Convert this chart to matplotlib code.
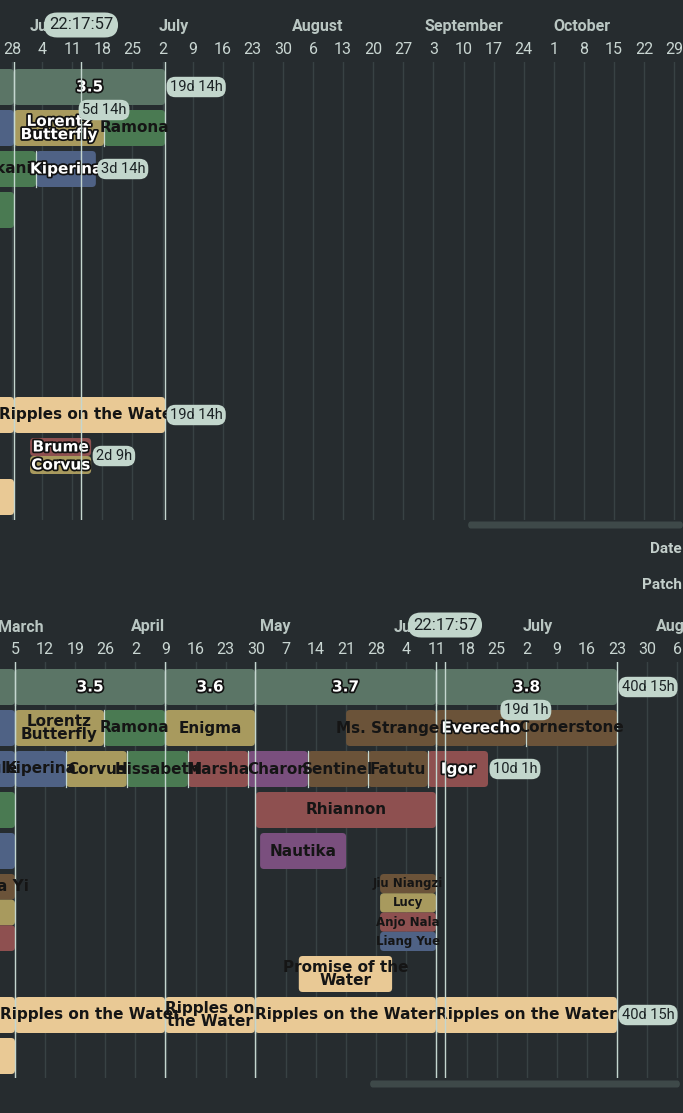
import matplotlib
matplotlib.use("Agg")
import matplotlib.pyplot as plt
import matplotlib.patheffects as pe
from matplotlib.patches import FancyBboxPatch
import pandas as pd

BG = "#262c2f"
GRID = "#384244"
LINE = "#c4d6cf"
BADGE = "#c2d6cc"
C = {"patch": "#5b7566", "blue": "#4f6285", "tan": "#a89a5e", "green": "#4a7a52",
     "red": "#8e5050", "purple": "#7a4f7e", "brown": "#6b5339", "light": "#e9c995"}

# ---------------- data ----------------
top_origin = "2024-05-28"
top_ticks = pd.date_range("2024-05-28", "2024-10-29", freq="7D")
top_months = ["2024-06-01", "2024-07-01", "2024-08-01", "2024-09-01", "2024-10-01"]
top_now = 16.05
top_lines = [0.47, 35.6]
# (row, start_day, end_day, label, color, white_outline, sub_index, sub_count)
top_bars = [
    (0, -30, 0.47, "", "patch", True, 0, 1),
    (0, 0.47, 35.6, "3.5", "patch", True, 0, 1),
    (1, -20, 0.47, "", "blue", False, 0, 1),
    (1, 0.47, 21.4, "Lorentz\nButterfly", "tan", True, 0, 1),
    (1, 21.4, 35.6, "Ramona", "green", False, 0, 1),
    (2, -7.4, 5.6, "Kakania", "green", False, 0, 1),
    (2, 5.6, 19.5, "Kiperina", "blue", True, 0, 1),
    (3, -20, 0.47, "", "green", False, 0, 1),
    (8, -30, 0.47, "", "light", False, 0, 1),
    (8, 0.47, 35.6, "Ripples on the Water", "light", False, 0, 1),
    (9, 4.2, 18.4, "Brume", "red", True, 0, 2),
    (9, 4.2, 18.4, "Corvus", "tan", True, 1, 2),
    (10, -20, 0.47, "", "light", False, 0, 1),
]
# (row, day, text, mode) mode: 'right' after bar end, 'top' centered on bar end at row top
top_badges = [(0, 35.6, "19d 14h", "right"), (1, 21.4, "5d 14h", "top"),
              (2, 19.5, "3d 14h", "right"), (8, 35.6, "19d 14h", "right"),
              (9, 18.4, "2d 9h", "right")]

bot_origin = "2024-03-05"
bot_ticks = pd.date_range("2024-03-05", "2024-08-06", freq="7D")
bot_months = ["2024-03-01", "2024-04-01", "2024-05-01", "2024-06-01", "2024-07-01", "2024-08-01"]
bot_now = 100.0
bot_lines = [0.0, 34.9, 55.8, 97.9, 140.0]
bot_bars = [
    (0, -30, 0.0, "", "patch", True, 0, 1),
    (0, 0.0, 34.9, "3.5", "patch", True, 0, 1),
    (0, 34.9, 55.8, "3.6", "patch", True, 0, 1),
    (0, 55.8, 97.9, "3.7", "patch", True, 0, 1),
    (0, 97.9, 140.0, "3.8", "patch", True, 0, 1),
    (1, -20, 0.0, "", "blue", False, 0, 1),
    (1, 0.0, 20.7, "Lorentz\nButterfly", "tan", False, 0, 1),
    (1, 20.7, 34.9, "Ramona", "green", False, 0, 1),
    (1, 34.9, 55.8, "Enigma", "tan", False, 0, 1),
    (1, 77.0, 97.9, "Ms. Stranger", "brown", False, 0, 1),
    (1, 97.9, 118.8, "Everecho", "brown", True, 0, 1),
    (1, 118.8, 140.0, "Cornerstone", "brown", False, 0, 1),
    (2, -9.5, 0.0, "Eagle", "blue", False, 0, 1),
    (2, 0.0, 11.9, "Kiperina", "blue", False, 0, 1),
    (2, 11.9, 26.0, "Corvus", "tan", False, 0, 1),
    (2, 26.0, 40.2, "Hissabeth", "green", False, 0, 1),
    (2, 40.2, 54.2, "Marsha", "red", False, 0, 1),
    (2, 54.2, 68.1, "Charon", "purple", False, 0, 1),
    (2, 68.1, 82.1, "Sentinel", "brown", False, 0, 1),
    (2, 82.1, 96.0, "Fatutu", "brown", False, 0, 1),
    (2, 96.0, 110.0, "Igor", "red", True, 0, 1),
    (3, -20, 0.0, "", "green", False, 0, 1),
    (3, 56.0, 97.9, "Rhiannon", "red", False, 0, 1),
    (4, -20, 0.0, "", "blue", False, 0, 1),
    (4, 57.0, 77.0, "Nautika", "purple", False, 0, 1),
    (5, -8.2, 0.0, "Zima Yi", "brown", False, 0, 3),
    (5, -8.2, 0.0, "", "tan", False, 1, 3),
    (5, -8.2, 0.0, "", "red", False, 2, 3),
    (5, 84.9, 97.9, "Jiu Niangzi", "brown", False, 0, 4),
    (5, 84.9, 97.9, "Lucy", "tan", False, 1, 4),
    (5, 84.9, 97.9, "Anjo Nala", "red", False, 2, 4),
    (5, 84.9, 97.9, "Liang Yue", "blue", False, 3, 4),
    (7, 66.0, 87.7, "Promise of the\nWater", "light", False, 0, 1),
    (8, -30, 0.0, "", "light", False, 0, 1),
    (8, 0.0, 34.9, "Ripples on the Water", "light", False, 0, 1),
    (8, 34.9, 55.8, "Ripples on\nthe Water", "light", False, 0, 1),
    (8, 55.8, 97.9, "Ripples on the Water", "light", False, 0, 1),
    (8, 97.9, 140.0, "Ripples on the Water", "light", False, 0, 1),
    (9, -20, 0.0, "", "light", False, 0, 1),
]
bot_badges = [(0, 140.0, "40d 15h", "right"), (1, 118.8, "19d 1h", "top"),
              (2, 110.0, "10d 1h", "right"), (8, 140.0, "40d 15h", "right")]

# ---------------- drawing ----------------
W, H = 683, 1113
PXD = 4.3  # pixels per day
fig = plt.figure(figsize=(W / 100, H / 100), dpi=100, facecolor=BG)
LBL = dict(family=["Liberation Sans Narrow", "DejaVu Sans"], fontweight="bold")


def panel(ax_top_px, ax_bot_px, row0_px, x0_px, origin, ticks, months, now, lines, bars, badges):
    ax = fig.add_axes([0, 1 - ax_bot_px / H, 1, (ax_bot_px - ax_top_px) / H])
    ax.set_facecolor(BG)
    for s in ax.spines.values():
        s.set_visible(False)
    ax.set_xticks([]); ax.set_yticks([])
    left = -x0_px / PXD
    ax.set_xlim(left, left + W / PXD)
    ax.set_ylim((ax_bot_px - row0_px) / 41, (ax_top_px - row0_px) / 41)
    hp = ax_bot_px - ax_top_px
    o = pd.Timestamp(origin)
    tdays = [(t - o).days for t in ticks]
    for d in tdays:
        ax.axvline(d, color=GRID, lw=1, zorder=0)
    tr = ax.get_xaxis_transform()
    for t, d in zip(ticks, tdays):
        ax.text(d, 1 + 12 / hp, str(t.day), transform=tr,
                ha="center", va="center", color="#c9d6d2", fontsize=11.5, family="Roboto")
    for m in months:
        d = (pd.Timestamp(m) - o).days
        ax.text(d, 1 + 35 / hp, pd.Timestamp(m).strftime("%B"),
                transform=tr, ha="left", va="center", color="#b9c6c2", fontsize=11.5,
                family="Roboto", fontweight="bold", zorder=1)
    h = 36 / 41
    asp = (1 / 41) / (1 / PXD)
    prev_end = {}
    for row, s, e, lab, col, white, si, sc in bars:
        hh = (h + 1) if sc in (3, 4) else h
        sub = hh / sc
        y = row + si * sub
        r = FancyBboxPatch((s, y), e - s, sub, boxstyle="round,pad=0,rounding_size=0.9",
                           mutation_aspect=asp, fc=C[col], ec="none", zorder=2)
        ax.add_patch(r)
        if sc == 1 and prev_end.get(row) is not None and abs(prev_end[row] - s) < 0.01:
            ax.plot([s, s], [y, y + sub], color=LINE, lw=0.9, zorder=3)
        if sc == 1:
            prev_end[row] = e
        if lab:
            cx = (s + e) / 2
            fs = 8.5 if sc == 4 else 11
            kw = dict(ha="center", va="center", fontsize=fs, linespacing=0.85, zorder=5,
                      clip_on=True, **LBL)
            if white:
                ax.text(cx, y + sub / 2, lab, color="white",
                        path_effects=[pe.withStroke(linewidth=2.5, foreground="#111111")], **kw)
            else:
                ax.text(cx, y + sub / 2, lab, color="#151515", **kw)
    for d in lines:
        ax.axvline(d, color=LINE, lw=1, zorder=4)
    ax.axvline(now, color=LINE, lw=1, zorder=6)
    bb = dict(boxstyle="round,pad=0.22,rounding_size=0.6", fc=BADGE, ec="none")
    for row, d, txt, mode in badges:
        if mode == "right":
            ax.text(d + 1.1, row + h / 2, txt, ha="left", va="center", color="#1b2224",
                    fontsize=10.5, family="Roboto", zorder=7, bbox=bb)
        else:
            ax.text(d, row, txt, ha="center", va="center", color="#1b2224",
                    fontsize=10.5, family="Roboto", zorder=7, bbox=bb)
    ax.text(now, 1 + 37 / hp, "22:17:57", transform=tr, ha="center",
            va="center", color="#1b2224", fontsize=12, family="Roboto", zorder=8,
            bbox=dict(boxstyle="round,pad=0.3,rounding_size=0.8", fc=BADGE, ec="none"))
    return ax


panel(62, 520, 69, 12, top_origin, top_ticks, top_months, top_now, top_lines, top_bars, top_badges)
panel(662, 1078, 669, 15, bot_origin, bot_ticks, bot_months, bot_now, bot_lines, bot_bars, bot_badges)

for (x0, x1, yc) in [(468, 683, 525), (370, 680, 1084)]:
    fig.patches.append(FancyBboxPatch((x0 / W, 1 - (yc + 3.5) / H), (x1 - x0) / W, 7 / H,
                                      boxstyle="round,pad=0,rounding_size=0.004",
                                      transform=fig.transFigure, fc="#3e4949", ec="none"))
fig.text(0.998, 1 - 549 / H, "Date", ha="right", va="center", color="#c3cfcb", fontsize=11,
         family="Roboto", fontweight="bold")
fig.text(0.998, 1 - 585 / H, "Patch", ha="right", va="center", color="#c3cfcb", fontsize=11,
         family="Roboto", fontweight="bold")

fig.savefig("out.png", dpi=100, facecolor=BG)
